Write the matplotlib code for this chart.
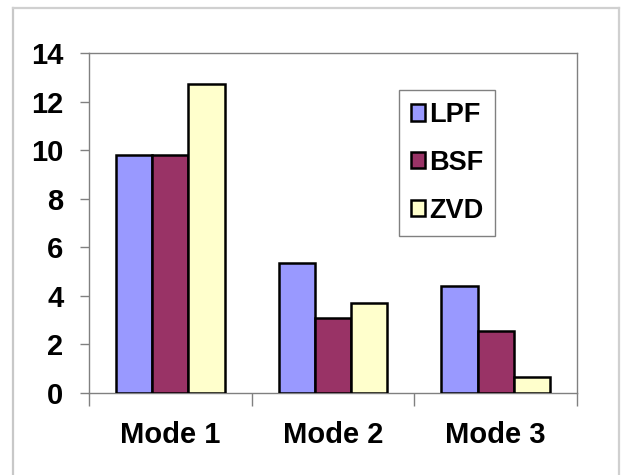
import matplotlib
matplotlib.use("Agg")
import matplotlib.pyplot as plt
import numpy as np
from matplotlib.lines import Line2D
from matplotlib.patches import Patch

categories = ["Mode 1", "Mode 2", "Mode 3"]
series = ["LPF", "BSF", "ZVD"]
lpf = [9.78, 5.36, 4.40]
bsf = [9.78, 3.07, 2.55]
zvd = [12.72, 3.69, 0.65]
colors = ["#9999FF", "#993366", "#FFFFCC"]
yticks = [0, 2, 4, 6, 8, 10, 12, 14]

plt.rcParams['font.family'] = ['Liberation Sans', 'DejaVu Sans']
plt.rcParams['font.weight'] = 'bold'

fig = plt.figure(figsize=(6.21, 4.75), dpi=100)
W, H = 621, 475
ax = fig.add_axes([89 / W, 1 - 393 / H, (577 - 89) / W, (393 - 53) / H])

x = np.arange(len(categories)) + 0.5
bw = 0.2225
for i, (vals, c, name) in enumerate(zip([lpf, bsf, zvd], colors, series)):
    ax.bar(x + (i - 1) * bw, vals, width=bw, color=c, edgecolor='black',
           linewidth=1.8, label=name, zorder=3)

ax.set_xlim(0, 3)
ax.set_ylim(0, 14)
ax.set_yticks(yticks)
ax.set_yticklabels([str(t) for t in yticks], fontsize=21, fontweight='bold')
ax.set_xticks(x)
ax.set_xticklabels(categories, fontsize=21, fontweight='bold')
ax.set_xticks([0, 1, 2, 3], minor=True)
ax.tick_params(axis='x', which='major', length=0, pad=20)
ax.tick_params(axis='x', which='minor', length=9, color='#808080', width=1)
ax.tick_params(axis='y', which='major', length=6.5, color='#808080', width=1, pad=12)
for s in ax.spines.values():
    s.set_color('#808080')
    s.set_linewidth(1)

handles = [Patch(facecolor=c, edgecolor='black', linewidth=1.8) for c in colors]
leg = ax.legend(handles, series, loc='upper left',
                bbox_to_anchor=((399 - 89) / (577 - 89), 1 - (90 - 53) / (393 - 53)),
                borderaxespad=0, prop={'weight': 'bold', 'size': 19.5},
                frameon=True, fancybox=False, framealpha=1, edgecolor='#808080',
                handlelength=0.5, handleheight=0.55, handletextpad=0.15,
                labelspacing=0.8, borderpad=0.45)
leg.get_frame().set_linewidth(1)

# figure border
fig.add_artist(Line2D([13 / W, 13 / W], [0, 1 - 8 / H], transform=fig.transFigure,
                      color='#c8c8c8', linewidth=1.6))
fig.add_artist(Line2D([13 / W, 619 / W], [1 - 8 / H, 1 - 8 / H], transform=fig.transFigure,
                      color='#d0d0d0', linewidth=1.6))
fig.add_artist(Line2D([619 / W, 619 / W], [0, 1 - 8 / H], transform=fig.transFigure,
                      color='#d0d0d0', linewidth=1.6))

fig.savefig("out.png", dpi=100)
